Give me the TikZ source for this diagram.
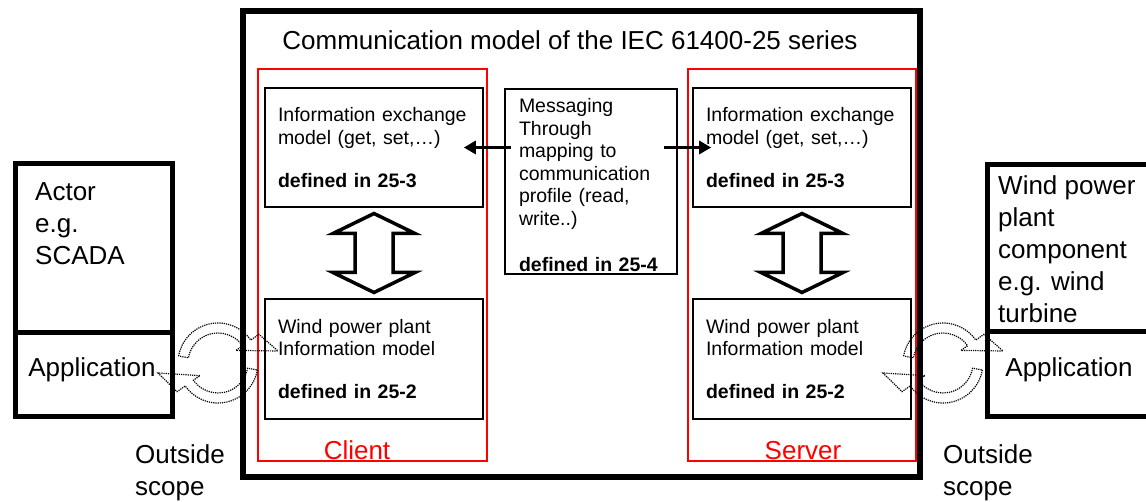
\documentclass[tikz,border=0pt]{standalone}
\usepackage{fontspec}
\setmainfont{Liberation Sans}
\usetikzlibrary{arrows.meta,calc}

\begin{document}
\begin{tikzpicture}[
      x=1pt, y=1pt,
      big/.style={font=\fontsize{26}{32}\selectfont, inner sep=0pt},
      small/.style={font=\fontsize{19.5}{22.5}\selectfont},
      frame/.style={draw, line width=5pt, inner sep=0pt},
      partbox/.style={draw, red, line width=1.5pt, inner sep=0pt},
      modelbox/.style={draw, line width=1.6pt, small, align=left, inner xsep=13pt, inner ysep=2pt, text width=192pt, minimum height=119pt},
      msgarrow/.style={-{Triangle[length=12pt,width=13pt]}, line width=3.5pt},
      blockarrow/.style={draw, line width=3.5pt, line join=miter},
      cyclearrow/.style={draw, densely dotted, line width=1.2pt}
    ]
      \useasboundingbox (0,0) rectangle (1146,-502);

      % communication model frame
      \node[frame, line width=6pt, minimum width=677pt, minimum height=466pt] (comm) at (581.5,-244) {};
      \node[big, anchor=base] (title) at (570,-50) {Communication model of the IEC 61400-25 series};

      % client and server
      \node[partbox, minimum width=229pt, minimum height=392pt] (client) at (372.5,-265) {};
      \node[partbox, minimum width=228pt, minimum height=392pt] (server) at (802,-265) {};
      \node[big, red, anchor=base] (clientlabel) at (357,-459) {Client};
      \node[big, red, anchor=base] (serverlabel) at (803,-459) {Server};

      \node[modelbox] (cinfo) at (374,-147.5) {Information exchange\\model (get, set,…)\\[20.5pt]\textbf{defined in 25-3}};
      \node[modelbox, minimum height=120pt] (cmodel) at (374,-359) {Wind power plant\\Information model\\[20.5pt]\textbf{defined in 25-2}};
      \node[modelbox] (sinfo) at (802,-147.5) {Information exchange\\model (get, set,…)\\[20.5pt]\textbf{defined in 25-3}};
      \node[modelbox, minimum height=120pt] (smodel) at (802,-359) {Wind power plant\\Information model\\[20.5pt]\textbf{defined in 25-2}};
      \node[modelbox, text width=144pt, inner xsep=14pt, minimum height=185pt] (msg) at (591,-181.5) {\rule{0pt}{21pt}Messaging\\Through\\mapping to\\communication\\profile (read,\\write..)\\[23.5pt]\textbf{defined in 25-4}};

      \draw[msgarrow] ([xshift=7pt]msg.west |- cinfo.east) -- ([xshift=-20pt]cinfo.east);
      \draw[msgarrow] ([xshift=-14pt]msg.east |- sinfo.west) -- ([xshift=19pt]sinfo.west);

      \foreach \side in {c,s} {
        \draw[blockarrow, shift={($(\side info.south)!.5!(\side model.north)$)}]
          (0,39.5) -- (41,19.5) -- (19,19.5) -- (19,-19.5) -- (41,-19.5) -- (0,-39.5)
          -- (-41,-19.5) -- (-19,-19.5) -- (-19,19.5) -- (-41,19.5) -- cycle;
      }

      % outside scope
      \node[frame, minimum width=157pt, minimum height=169pt] (actor) at (93.5,-248.5) {};
      \node[frame, minimum width=157pt, minimum height=84pt] (capp) at (93.5,-375) {};
      \node[big, anchor=north west, align=left] (actortext) at (35,-182) {Actor\\e.g.\\SCADA};
      \node[big, anchor=base] (capptext) at (92,-377) {Application};

      \node[frame, minimum width=163pt, minimum height=167pt] (wpp) at (1068.5,-248.5) {};
      \node[frame, minimum width=163pt, minimum height=85pt] (sapp) at (1068.5,-374.5) {};
      \node[big, anchor=north west, align=left] (wpptext) at (998,-175) {Wind power\\plant\\component\\e.g. wind\\turbine};
      \node[big, anchor=base] (sapptext) at (1069,-377) {Application};

      \node[big, anchor=north west, align=left] (outleft) at (135,-444) {Outside\\scope};
      \node[big, anchor=north west, align=left] (outright) at (943,-444) {Outside\\scope};

      % application <-> information model
      \foreach \cx in {218,943} {
        \begin{scope}[shift={(\cx,-363)}]
          \draw[cyclearrow] (170:40pt) arc[start angle=170, end angle=35, radius=40pt] -- (35:50pt) -- (60,12)
            -- (35:22pt) -- (35:30pt) arc[start angle=35, end angle=170, radius=30pt] -- cycle;
          \draw[cyclearrow] (-10:40pt) arc[start angle=-10, end angle=-145, radius=40pt] -- (-145:50pt) -- (-60,-10)
            -- (-145:22pt) -- (-145:30pt) arc[start angle=-145, end angle=-10, radius=30pt] -- cycle;
        \end{scope}
      }
    \end{tikzpicture}
\end{document}
